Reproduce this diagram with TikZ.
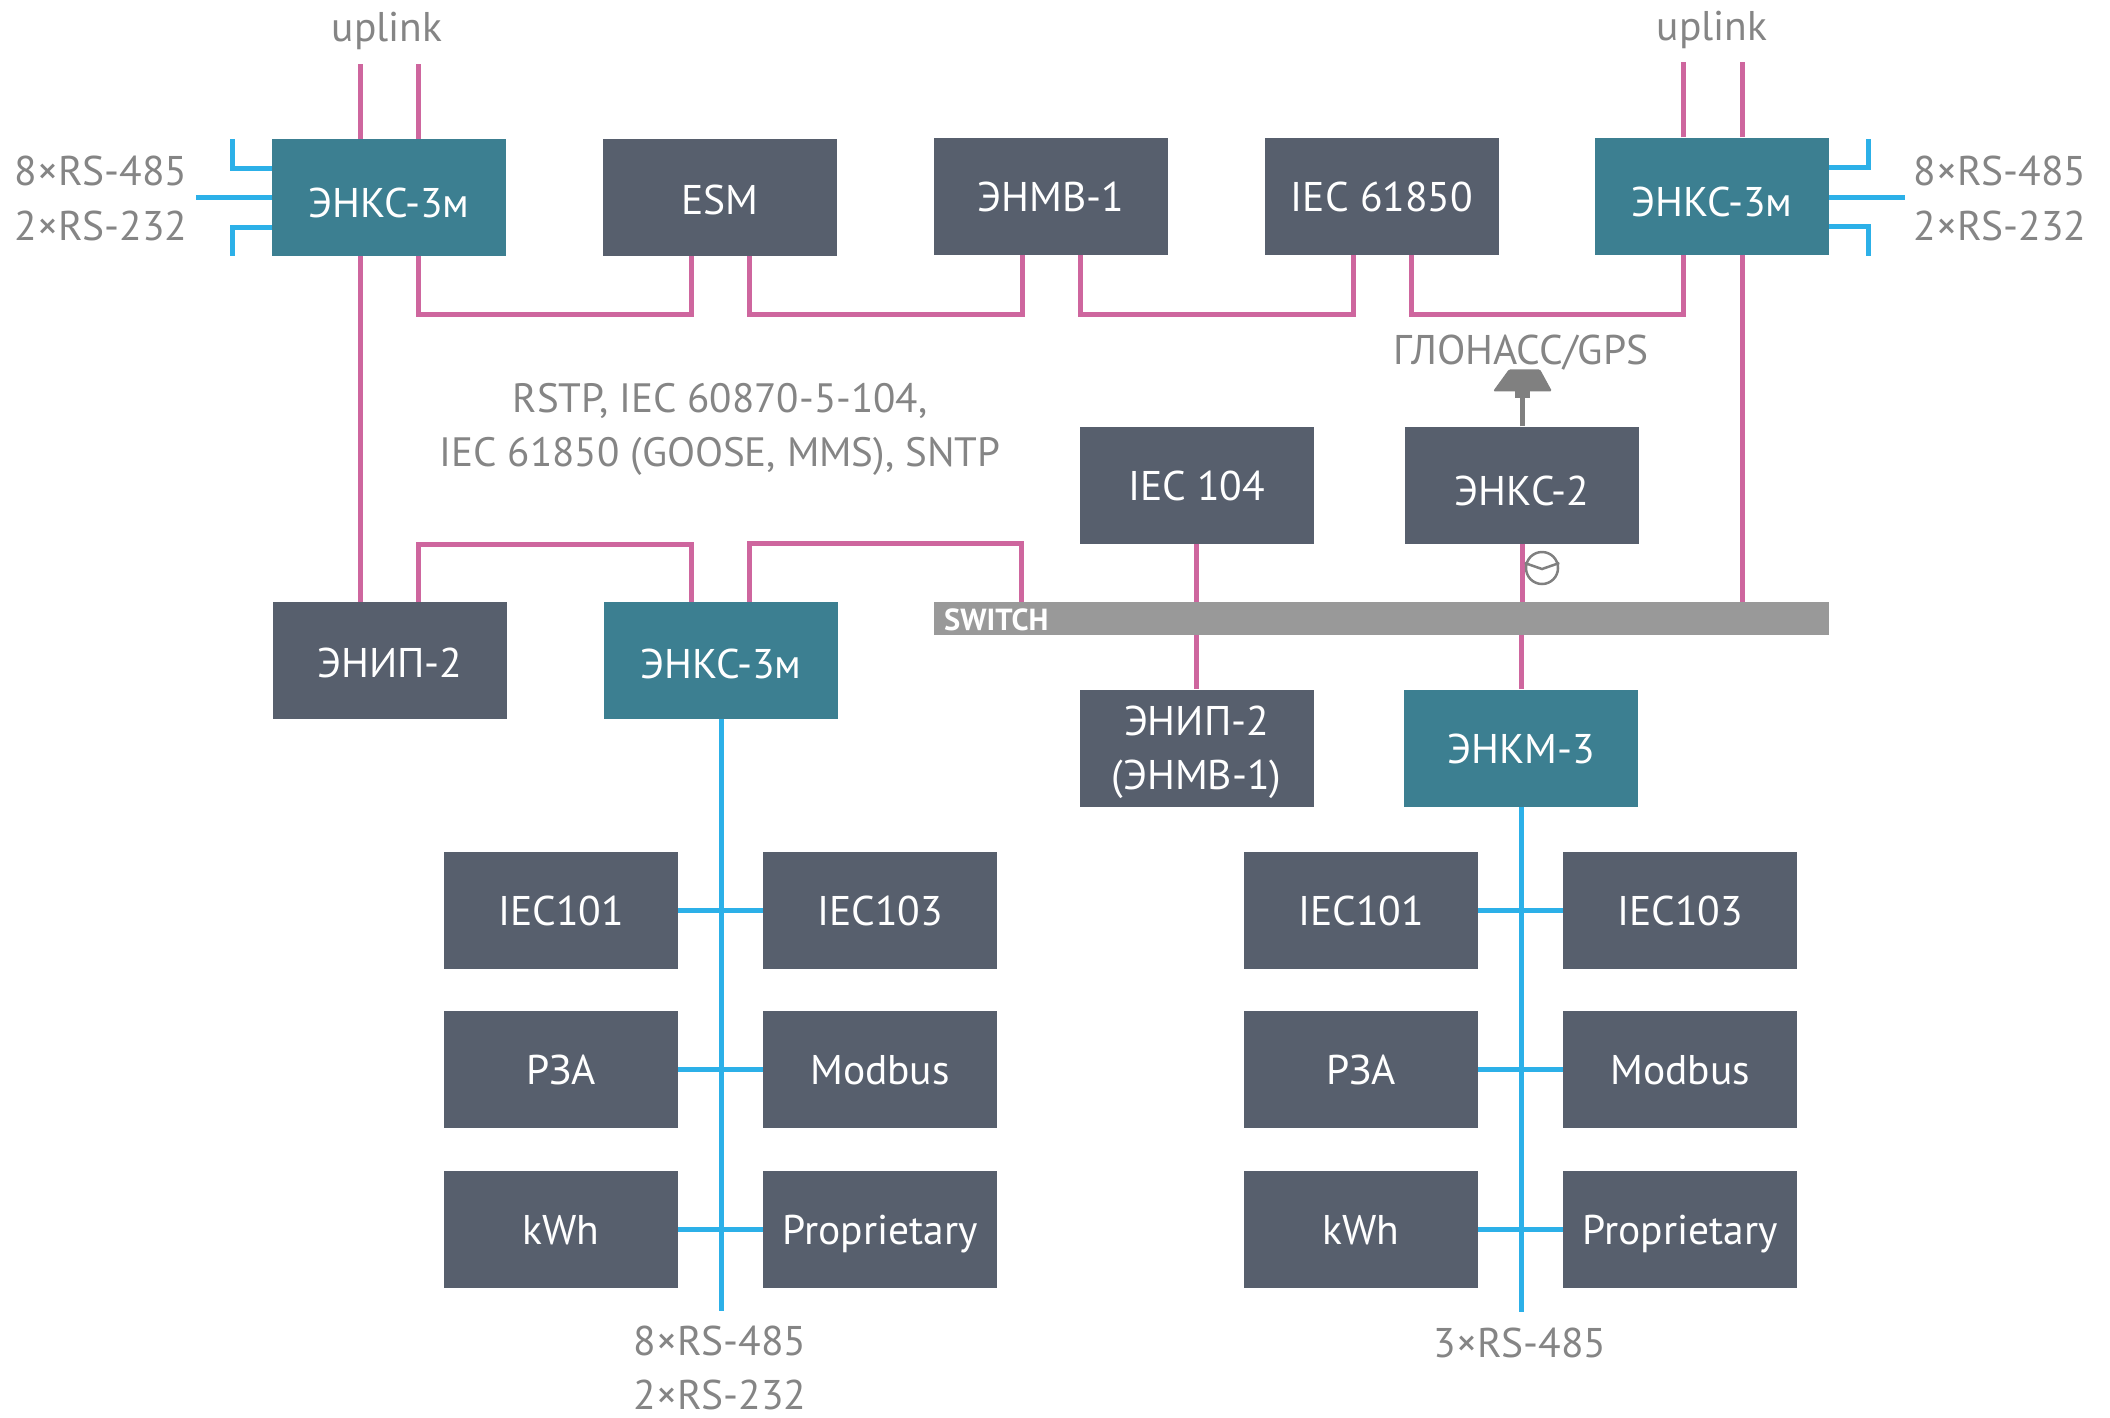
\documentclass[tikz,border=0pt]{standalone}
\usepackage{fontspec}
\setmainfont{PT Sans}
\usepackage{xcolor}
\usetikzlibrary{positioning,calc}
\definecolor{mTeal}{HTML}{3C7F91}
\definecolor{mSlate}{HTML}{575F6D}
\definecolor{mPink}{HTML}{CE669E}
\definecolor{mBlue}{HTML}{2CB0E8}
\definecolor{mGrey}{HTML}{858585}
\definecolor{mBar}{HTML}{999999}
\tikzset{
  sink/.style={text height=#1, text depth=0pt},
  devbox/.style={fill=mSlate, minimum width=234pt, minimum height=117pt, inner sep=0pt, align=center, text=white, font=\fontsize{41.5}{54}\selectfont, sink=31pt},
  keybox/.style={devbox, fill=mTeal},
  lbl/.style={text=mGrey, inner sep=0pt, align=center, font=\fontsize{41.5}{54}\selectfont},
  pinkline/.style={draw=mPink, line width=5pt},
  blueline/.style={draw=mBlue, line width=5pt},
}
\newcommand{\ringlink}[2]{%
\draw[pinkline] ([xshift=29pt]#1.south) -- ([xshift=29pt]#1.south |- 0,314) -| ([xshift=-29pt]#2.south);}
\newcommand{\fieldgroup}[2]{%
\node[devbox] (#2a) at (#1-160,910) {IEC101};
\node[devbox] (#2b) at (#1+159,910) {IEC103};
\node[devbox] (#2c) at (#1-160,1069) {РЗА};
\node[devbox] (#2d) at (#1+159,1069) {Modbus};
\node[devbox] (#2e) at (#1-160,1229) {kWh};
\node[devbox] (#2f) at (#1+159,1229) {Proprietary};
\draw[blueline] (#2a) -- (#2b);
\draw[blueline] (#2c) -- (#2d);
\draw[blueline] (#2e) -- (#2f);}
\begin{document}
\begin{tikzpicture}[x=1pt,y=-1pt]
\useasboundingbox (0,0) rectangle (2110,1417);
% top row
\node[keybox, sink=40pt] (enksl) at (389,197.5) {ЭНКС-3м};
\node[devbox, sink=33pt] (esm) at (720,197.5) {ESM};
\node[devbox] (enmv) at (1051,196) {ЭНМВ-1};
\node[devbox] (iec) at (1382,196) {IEC 61850};
\node[keybox, sink=40pt] (enksr) at (1712,196) {ЭНКС-3м};
\ringlink{enksl}{esm}
\ringlink{esm}{enmv}
\ringlink{enmv}{iec}
\ringlink{iec}{enksr}
\draw[pinkline] ([xshift=-29pt]enksl.north) -- ++(0,-75);
\draw[pinkline] ([xshift=29pt]enksl.north) -- ++(0,-75);
\draw[pinkline] ([xshift=-29pt]enksr.north) -- ++(0,-75);
\draw[pinkline] ([xshift=30pt]enksr.north) -- ++(0,-75);
\node[lbl] (upl) at (387,31) {uplink};
\node[lbl] (upr) at (1712,30) {uplink};
% serial stubs
\draw[blueline] (enksl.west |- 0,168) -- ++(-39,0) -- ++(0,-29);
\draw[blueline] (enksl.west) ++(0,0) -- ++(-76,0);
\draw[blueline] (enksl.west |- 0,227) -- ++(-39,0) -- ++(0,29);
\draw[blueline] (enksr.east |- 0,167) -- ++(39,0) -- ++(0,-28);
\draw[blueline] (enksr.east |- 0,197) -- ++(76,0);
\draw[blueline] (enksr.east |- 0,226) -- ++(39,0) -- ++(0,30);
\node[lbl] (serla) at (101,171) {8×RS-485};
\node[lbl] (serlb) at (101,226) {2×RS-232};
\node[lbl] (serra) at (2000,171) {8×RS-485};
\node[lbl] (serrb) at (2000,226) {2×RS-232};
% middle row
\node[lbl, font=\fontsize{41}{54}\selectfont] (proto) at (720,429) {RSTP, IEC 60870-5-104,\\IEC 61850 (GOOSE, MMS), SNTP};
\node[devbox, sink=34pt] (enip) at (390,660.5) {ЭНИП-2};
\node[keybox, sink=35pt] (enksm) at (721,660.5) {ЭНКС-3м};
\node[devbox] (iecf) at (1196.5,485) {IEC 104};
\node[devbox, sink=40pt] (enkst) at (1522,485) {ЭНКС-2};
\node[fill=mBar, minimum width=895pt, minimum height=33pt, inner sep=0pt] (switch) at (1381.5,618.5) {};
\node[anchor=west, inner sep=0pt, text=white, font=\fontsize{30.5}{32}\selectfont\bfseries] (switchlbl) at (944,620) {SWITCH};
\node[devbox, text height=, text depth=] (enipb) at (1196.5,748) {\rule{0pt}{39pt}ЭНИП-2\\(ЭНМВ-1)};
\node[keybox] (enkm) at (1521,748) {ЭНКМ-3};
\draw[pinkline] ([xshift=-29pt]enksl.south) -- ([xshift=-30pt]enip.north);
\draw[pinkline] ([xshift=28pt]enip.north) |- (418,544) -| ([xshift=-30pt]enksm.north);
\draw[pinkline] ([xshift=28pt]enksm.north) -- ++(0,-58) -| (switch.north -| 1021,0);
\draw[pinkline] ([xshift=30pt]enksr.south) -- (switch.north -| 1742,0);
\draw[pinkline] (iecf.south) -- (switch.north -| iecf.south);
\draw[pinkline] (switch.south -| enipb.north) -- (enipb.north);
\draw[pinkline] (enkst.south) -- (switch.north -| enkst.south);
\draw[pinkline] (switch.south -| enkm.north) -- (enkm.north);
% antenna
\draw[draw=gray, line width=5pt] (enkst.north) -- ++(0,-30) coordinate (antfoot);
\fill[gray] ($(antfoot)+(-7,2)$) rectangle ($(antfoot)+(8,-6)$);
\fill[gray, rounded corners=1.5pt] ($(antfoot)+(-29,-5)$) -- ($(antfoot)+(-13,-27)$) -- ($(antfoot)+(18,-27)$) -- ($(antfoot)+(30,-5)$) -- cycle;
\node[lbl] (gnss) at (1521,353) {ГЛОНАСС/GPS};
% clock
\node[draw=gray, line width=2.5pt, circle, minimum size=32pt, inner sep=0pt] (clock) at (1542,568) {};
\draw[draw=gray, line width=2.5pt] ([yshift=5pt]clock.west) -- ([yshift=-1pt]clock.center) -- ([yshift=5pt]clock.east);
% field groups
\fieldgroup{721}{fl}
\fieldgroup{1521}{fr}
\draw[blueline] (enksm.south) -- ++(0,592);
\draw[blueline] (enkm.south) -- ++(0,505);
\node[lbl] (busl) at (720,1368) {8×RS-485\\2×RS-232};
\node[lbl] (busr) at (1520,1343) {3×RS-485};
\end{tikzpicture}
\end{document}
